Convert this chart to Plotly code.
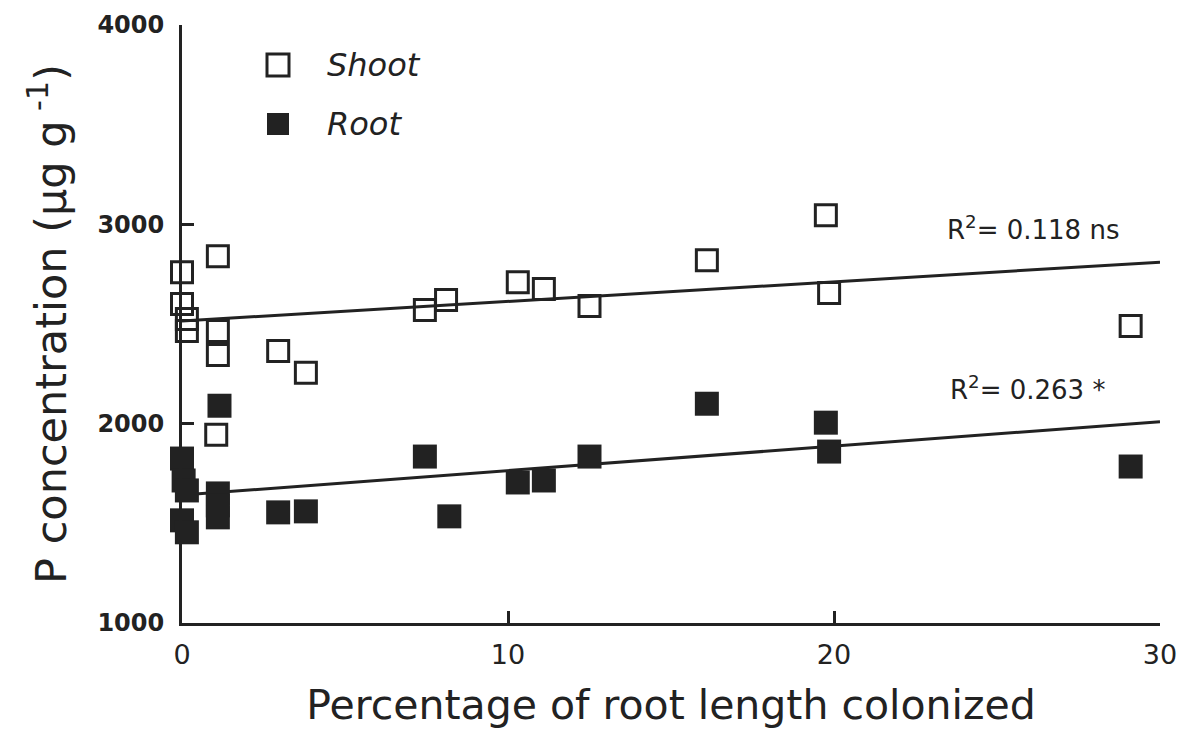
import plotly.graph_objects as go

# Shoot (open squares)
shoot_x = [0.0, 0.0, 0.15, 0.15, 1.1, 1.1, 1.1, 2.95, 3.8, 1.05, 7.45, 8.1, 10.3, 11.1, 12.5, 16.1, 19.75, 19.85, 29.1]
shoot_y = [2760, 2600, 2525, 2465, 2840, 2465, 2345, 2365, 2255, 1945, 2570, 2620, 2710, 2675, 2590, 2820, 3045, 2655, 2490]

# Root (filled squares)
root_x = [1.15, 0.0, 0.05, 0.15, 0.0, 0.15, 1.1, 1.1, 1.1, 2.95, 3.8, 7.45, 8.2, 10.3, 11.1, 12.5, 16.1, 19.75, 19.85, 29.1]
root_y = [2090, 1825, 1715, 1665, 1515, 1455, 1650, 1590, 1530, 1555, 1560, 1835, 1535, 1705, 1715, 1835, 2100, 2005, 1860, 1785]

# Regression lines (endpoints)
fit_x = [0, 30]
shoot_fit = [2515, 2810]
root_fit = [1642, 2010]

r2_labels = ["R<sup>2</sup>= 0.118 ns", "R<sup>2</sup>= 0.263 *"]
r2_x = [26.1, 25.95]
r2_y = [2980, 2180]

legend_names = ["Shoot", "Root"]

ink = "#222222"
FONT = "DejaVu Sans, Liberation Sans, Arial, sans-serif"

fig = go.Figure()
fig.add_trace(go.Scatter(x=fit_x, y=shoot_fit, mode="lines", line=dict(color=ink, width=3),
                         showlegend=False, hoverinfo="skip"))
fig.add_trace(go.Scatter(x=fit_x, y=root_fit, mode="lines", line=dict(color=ink, width=3),
                         showlegend=False, hoverinfo="skip"))
fig.add_trace(go.Scatter(x=shoot_x, y=shoot_y, mode="markers", name=legend_names[0], showlegend=False,
                         marker=dict(symbol="square-open", size=21, color=ink, line=dict(width=3, color=ink)),
                         cliponaxis=False))
fig.add_trace(go.Scatter(x=root_x, y=root_y, mode="markers", name=legend_names[1], showlegend=False,
                         marker=dict(symbol="square", size=24, color=ink, line=dict(width=0)),
                         cliponaxis=False))

for t, x, y in zip(r2_labels, r2_x, r2_y):
    fig.add_annotation(x=x, y=y, text=t, showarrow=False, xanchor="center", yanchor="middle",
                       font=dict(family=FONT, size=26, color=ink))

# Manual legend (keys in paper coordinates, pixel-sized)
plot_w, plot_h = 1181 - 182 - 21, 734 - 25 - 111
key_px = 96  # key centre x offset from plot left, px
for i, (name, filled) in enumerate(zip(legend_names, [False, True])):
    cy = 1 - (40 + i * 59) / plot_h
    fig.add_shape(type="rect", xref="paper", yref="paper", xsizemode="pixel", ysizemode="pixel",
                  xanchor=key_px / plot_w, yanchor=cy, x0=-11, x1=11, y0=-11, y1=11,
                  line=dict(color=ink, width=0 if filled else 3),
                  fillcolor=ink if filled else "rgba(0,0,0,0)")
    fig.add_annotation(xref="paper", yref="paper", x=(key_px + 47) / plot_w, y=cy, text=name,
                       showarrow=False, xanchor="left", yanchor="middle",
                       font=dict(family=FONT, size=32, style="italic", color=ink))

fig.update_layout(
    width=1181, height=734,
    margin=dict(l=182, r=21, t=25, b=111),
    paper_bgcolor="white", plot_bgcolor="white",
    font=dict(family=FONT, color=ink),
    showlegend=False,
)
fig.update_xaxes(range=[0, 30], tickvals=[0, 10, 20, 30], showline=True, linewidth=3, linecolor=ink,
                 ticks="inside", ticklen=12, tickwidth=2.5, tickcolor=ink, showgrid=False, zeroline=False,
                 ticklabelstandoff=6, automargin=False,
                 tickfont=dict(family=FONT, size=27, color=ink),
                 title=dict(text="Percentage of root length colonized", font=dict(family=FONT, size=41, color=ink),
                            standoff=21))
fig.update_yaxes(range=[1000, 4000], tickvals=[1000, 2000, 3000, 4000], showline=True, linewidth=3, linecolor=ink,
                 ticks="inside", ticklen=12, tickwidth=2.5, tickcolor=ink, showgrid=False, zeroline=False,
                 ticklabelstandoff=10, automargin=False,
                 tickfont=dict(family=FONT, size=24, color=ink, weight="bold"),
                 title=dict(text="P concentration (µg g<sup> -1</sup>)", font=dict(family=FONT, size=43, color=ink),
                            standoff=18))

fig.write_html("out.html")
